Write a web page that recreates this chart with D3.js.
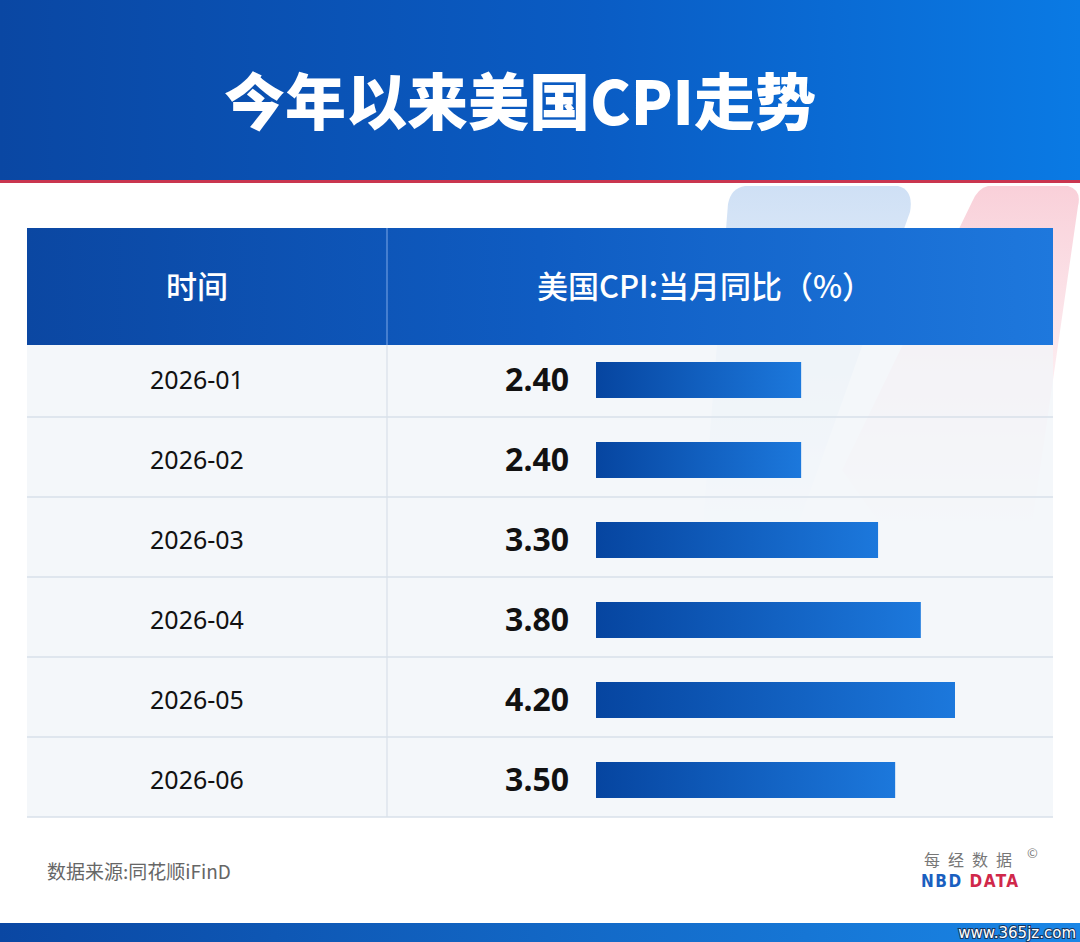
<!DOCTYPE html>
<html>
<head>
<meta charset="utf-8">
<script src="https://cdn.jsdelivr.net/npm/d3@7"></script>
<style>
  html, body { margin: 0; padding: 0; background: #fff; }
  svg { display: block; }
</style>
</head>
<body>
<script>
// chart data
var months = ["2026-01", "2026-02", "2026-03", "2026-04", "2026-05", "2026-06"];
var cpiYoY = [2.40, 2.40, 3.30, 3.80, 4.20, 3.50];
var title = "今年以来美国CPI走势";
var colHeaders = ["时间", "美国CPI:当月同比（%）"];
var sourceText = "数据来源:同花顺iFinD";

var W = 1080, H = 942;
var cjk = "'Noto Sans CJK SC', 'Noto Sans', sans-serif";

var svg = d3.select("body").append("svg").attr("width", W).attr("height", H);
var defs = svg.append("defs");

function lin(id, stops, x2, y2) {
  var g = defs.append("linearGradient").attr("id", id)
    .attr("x1", 0).attr("y1", 0).attr("x2", x2 == null ? 1 : x2).attr("y2", y2 || 0);
  stops.forEach(function(s){
    g.append("stop").attr("offset", s[0]).attr("stop-color", s[1]).attr("stop-opacity", s[2] == null ? 1 : s[2]);
  });
}
lin("band", [[0, "#0a47a3"], [0.55, "#0a5cc4"], [1, "#0a7ae4"]]);
lin("thead", [[0, "#0b47a2"], [0.5, "#0f5cc2"], [1, "#1e78dd"]]);
lin("bar", [[0, "#0645a0"], [1, "#1c78dc"]]);
lin("decoBlue", [[0, "#cfe0f5", 1], [0.6, "#dbe8f7", 0.5], [1, "#e6eef8", 0.0]], 0, 1);
lin("decoPink", [[0, "#f9d0d9", 1], [0.6, "#fbe0e6", 0.5], [1, "#fbe9ec", 0.0]], 0, 1);
lin("foot", [[0, "#0a47a3"], [1, "#1a86e6"]]);

// decorative shapes behind the table
svg.append("path")
  .attr("d", "M745,186 L898,186 Q914,190 910,212 L800,520 L700,560 L728,204 Q731,188 745,186 Z")
  .attr("fill", "url(#decoBlue)");
svg.append("path")
  .attr("d", "M988,186 L1068,186 Q1082,190 1078,206 L1030,540 L905,560 L842,470 L972,202 Q978,188 988,186 Z")
  .attr("fill", "url(#decoPink)");

// header band
svg.append("rect").attr("x", 0).attr("y", 0).attr("width", W).attr("height", 181).attr("fill", "url(#band)");
svg.append("rect").attr("x", 0).attr("y", 180).attr("width", W).attr("height", 3).attr("fill", "#c9354f");
svg.append("text")
  .attr("x", 520).attr("y", 125)
  .attr("text-anchor", "middle")
  .attr("fill", "#fff")
  .attr("font-family", cjk)
  .attr("font-weight", 900)
  .attr("font-size", 61)
  .text(title);

// table layout
var tableX0 = 27, tableX1 = 1053, colDiv = 387;
var headTop = 228, headBot = 345, tableBot = 817;

var y = d3.scaleBand().domain(months).range([337, tableBot]).padding(0);
var x = d3.scaleLinear().domain([0, 4.2]).range([596, 955]);

svg.append("rect")
  .attr("x", tableX0).attr("y", headBot).attr("width", tableX1 - tableX0).attr("height", tableBot - headBot)
  .attr("fill", "#f1f5f9").attr("fill-opacity", 0.78);

svg.append("rect")
  .attr("x", tableX0).attr("y", headTop).attr("width", tableX1 - tableX0).attr("height", headBot - headTop)
  .attr("fill", "url(#thead)");
svg.append("line")
  .attr("x1", colDiv).attr("x2", colDiv).attr("y1", headTop).attr("y2", headBot)
  .attr("stroke", "#6c9be0").attr("stroke-width", 1.2);

var headText = svg.append("g")
  .attr("font-family", cjk).attr("font-size", 31).attr("font-weight", 500).attr("fill", "#fff")
  .attr("text-anchor", "middle");
headText.append("text").attr("x", 197).attr("y", 298).text(colHeaders[0]);
headText.append("text").attr("x", 705).attr("y", 298).text(colHeaders[1]);

// row lines
svg.append("line")
  .attr("x1", colDiv).attr("x2", colDiv).attr("y1", headBot).attr("y2", tableBot)
  .attr("stroke", "#d8e0ea").attr("stroke-width", 1.2);
svg.selectAll(".rowline")
  .data(months)
  .enter().append("line")
  .attr("class", "rowline")
  .attr("x1", tableX0).attr("x2", tableX1)
  .attr("y1", function(d){ return y(d) + y.bandwidth(); })
  .attr("y2", function(d){ return y(d) + y.bandwidth(); })
  .attr("stroke", "#d8e0ea").attr("stroke-width", 1.5);

var rows = svg.selectAll(".row")
  .data(months.map(function(m, i){ return {month: m, value: cpiYoY[i]}; }))
  .enter().append("g")
  .attr("class", "row")
  .attr("transform", function(d){ return "translate(0," + (y(d.month) + y.bandwidth() / 2 + 3) + ")"; });

rows.append("text")
  .attr("x", 197).attr("y", 9)
  .attr("text-anchor", "middle")
  .attr("font-family", "'Noto Sans', sans-serif")
  .attr("font-size", 25)
  .attr("fill", "#111")
  .text(function(d){ return d.month; });

rows.append("text")
  .attr("x", 569).attr("y", 11)
  .attr("text-anchor", "end")
  .attr("font-family", "'Noto Sans', sans-serif")
  .attr("font-weight", 700)
  .attr("font-size", 32)
  .attr("fill", "#111")
  .text(function(d){ return d3.format(".2f")(d.value); });

rows.append("rect")
  .attr("x", x(0)).attr("y", -18)
  .attr("width", function(d){ return x(d.value) - x(0); })
  .attr("height", 36)
  .attr("fill", "url(#bar)");

// footer
svg.append("text")
  .attr("x", 47).attr("y", 879)
  .attr("font-family", cjk).attr("font-size", 19).attr("fill", "#666")
  .text(sourceText);

var logo = svg.append("g").attr("font-family", cjk);
logo.append("text")
  .attr("x", 1020).attr("y", 866).attr("text-anchor", "end")
  .attr("font-size", 16).attr("fill", "#777").attr("letter-spacing", 8)
  .text("每经数据");
logo.append("text")
  .attr("x", 1027).attr("y", 858)
  .attr("font-size", 13).attr("fill", "#777")
  .text("©");
var nbd = logo.append("text")
  .attr("x", 921).attr("y", 887)
  .attr("font-family", "'DejaVu Sans Condensed', 'DejaVu Sans', sans-serif")
  .attr("font-size", 17).attr("font-weight", 700).attr("letter-spacing", 1.5);
nbd.append("tspan").attr("fill", "#1a5fc0").text("NBD ");
nbd.append("tspan").attr("fill", "#d0284a").text("DATA");

svg.append("rect").attr("x", 0).attr("y", 923).attr("width", W).attr("height", 19).attr("fill", "url(#foot)");
svg.append("text")
  .attr("x", 1076).attr("y", 938).attr("text-anchor", "end")
  .attr("font-family", "'DejaVu Sans', sans-serif").attr("font-size", 15)
  .attr("fill", "#fff").attr("stroke", "#18365e").attr("stroke-width", 2)
  .attr("paint-order", "stroke")
  .text("www.365jz.com");
</script>
</body>
</html>
